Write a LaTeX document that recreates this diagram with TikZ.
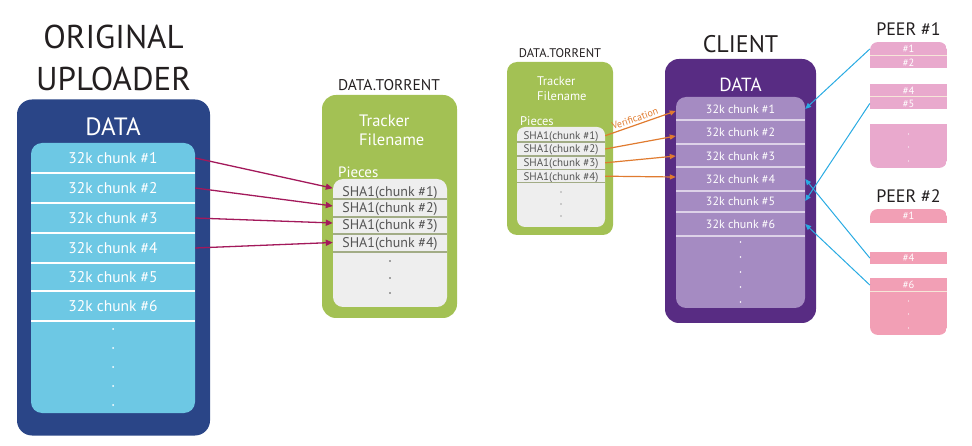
\documentclass[tikz,border=0pt]{standalone}
\usepackage{fontspec}
\setmainfont{PT Sans}
\usetikzlibrary{arrows.meta}
\definecolor{upblue}{HTML}{2A4587}
\definecolor{upsky}{HTML}{6DC8E4}
\definecolor{tgreen}{HTML}{A3C154}
\definecolor{tgray}{HTML}{EEEEEE}
\definecolor{tsep}{HTML}{A2AC86}
\definecolor{ttext}{HTML}{555555}
\definecolor{cpurple}{HTML}{582C83}
\definecolor{clilac}{HTML}{A58BC2}
\definecolor{csep}{HTML}{DDD2E8}
\definecolor{pinkA}{HTML}{E9A9CD}
\definecolor{pinkB}{HTML}{F29FB5}
\definecolor{psep}{HTML}{F6E6D8}
\definecolor{amag}{HTML}{A3195B}
\definecolor{aorg}{HTML}{E07B2F}
\definecolor{acyan}{HTML}{29ABE2}
\definecolor{ink}{HTML}{231F20}
\tikzset{
  txt/.style n args={2}{inner sep=0pt, font=\fontsize{#1}{#1}\selectfont, text height=#2pt, text depth=0pt},
  box/.style={inner sep=0pt, draw=none},
  urow/.style={txt={15.5}{10.85}, text=white, minimum width=164},
  srow/.style={txt={14}{9.8}, text=ttext, minimum width=114},
  vrow/.style={txt={11}{7.7}, text=ttext, minimum width=88},
  crow/.style={txt={12}{8.4}, text=white, minimum width=129},
  prow/.style={txt={10.5}{7.35}, text=white, minimum width=77},
  marr/.style={draw=amag, line width=1.3pt, -{Triangle[length=7pt,width=6pt]}},
  oarr/.style={draw=aorg, line width=1.2pt, -{Triangle[length=6pt,width=5pt]}},
  carr/.style={draw=acyan, line width=1pt, -{Triangle[length=6pt,width=5pt]}},
}
\begin{document}
\begin{tikzpicture}[x=1pt,y=-1pt]
\useasboundingbox (0,0) rectangle (972,446);

% ---------------- Original uploader ----------------
\node[txt={33}{23.1}, text=ink] (t1) at (113.5,36.5) {ORIGINAL};
\node[txt={33}{23.1}, text=ink] (t2) at (113.5,78.5) {UPLOADER};
\node[box, fill=upblue, rounded corners=15, minimum width=193, minimum height=336] (up) at (113.5,267.5) {};
\node[txt={25}{17.5}, text=white] (upd) at (113,127) {DATA};
\node[box, fill=upsky, rounded corners=11, minimum width=164, minimum height=270] (upin) at (113,278) {};
\foreach \i/\y in {1/158,2/188,3/218,4/248,5/277,6/306}
  \node[urow] (u\i) at (113,\y) {32k chunk \#\i};
\foreach \y in {173,203,233,263,291,321}
  \draw[white, line width=1.4pt] (31,\y) -- (195,\y);
\foreach \y in {329,348,367,386,405}
  \fill[white] (113,\y) circle (1);

% ---------------- Torrent (middle) ----------------
\node[txt={15.5}{10.85}, text=ink] (mt) at (389,85) {DATA.TORRENT};
\node[box, fill=tgreen, rounded corners=14, minimum width=135, minimum height=223] (mg) at (389.5,206.5) {};
\node[txt={16.5}{11.55}, text=white, anchor=west] (mtr) at (359,121) {Tracker};
\node[txt={16.5}{11.55}, text=white, anchor=west] (mfn) at (359,140) {Filename};
\node[txt={15}{10.5}, text=white, anchor=west] (mpc) at (338,172) {Pieces};
\node[box, fill=tgray, rounded corners=10, minimum width=114, minimum height=128] (mgi) at (390,243) {};
\foreach \i/\y in {1/191.7,2/208,3/225,4/242.5}
  \node[srow] (s\i) at (390,\y) {SHA1(chunk \#\i)};
\foreach \y in {199,217,234,252}
  \draw[tsep, line width=2pt] (333,\y) -- (447,\y);
\foreach \y in {261,278,293}
  \fill[ttext] (390,\y) circle (0.9);

% ---------------- Torrent (small) ----------------
\node[txt={12.5}{8.75}, text=ink] (st) at (560,53.5) {DATA.TORRENT};
\node[box, fill=tgreen, rounded corners=10, minimum width=106, minimum height=173] (sg) at (560,148.5) {};
\node[txt={12.5}{8.75}, text=white, anchor=west] (str) at (537,81.5) {Tracker};
\node[txt={12.5}{8.75}, text=white, anchor=west] (sfn) at (537,96.5) {Filename};
\node[txt={12.5}{8.75}, text=white, anchor=west] (spc) at (520,121) {Pieces};
\node[box, fill=tgray, rounded corners=8, minimum width=88, minimum height=100] (sgi) at (561,177) {};
\foreach \i/\y in {1/135.7,2/149,3/162.8,4/176.2}
  \node[vrow] (v\i) at (561,\y) {SHA1(chunk \#\i)};
\foreach \y in {142,156,169.3,182.7}
  \draw[tsep, line width=1.5pt] (517,\y) -- (605,\y);
\foreach \y in {192,204,216}
  \fill[ttext] (561,\y) circle (0.7);

% ---------------- Client ----------------
\node[txt={24}{16.8}, text=ink] (cl) at (740.5,44) {CLIENT};
\node[box, fill=cpurple, rounded corners=14, minimum width=151, minimum height=264] (cb) at (740.5,191) {};
\node[txt={19}{13.3}, text=white] (cd) at (740.5,85) {DATA};
\node[box, fill=clilac, rounded corners=10, minimum width=129, minimum height=211] (ci) at (740.5,202.5) {};
\foreach \i/\y in {1/109,2/132.5,3/156,4/179,5/201,6/224}
  \node[crow] (c\i) at (740.5,\y) {32k chunk \#\i};
\foreach \y in {120,144,167,191,212,236}
  \draw[csep, line width=1.2pt] (676,\y) -- (805,\y);
\foreach \y in {242,257,272,287,302}
  \fill[white] (740.5,\y) circle (0.8);

% ---------------- Peer 1 ----------------
\node[txt={18}{12.6}, text=ink] (p1t) at (908.5,29) {PEER \#1};
\begin{scope}
  \clip[rounded corners=8] (870,42) rectangle (947,168);
  \fill[pinkA] (870,42) rectangle (947,68.5);
  \fill[pinkA] (870,84) rectangle (947,109.5);
  \fill[pinkA] (870,124) rectangle (947,168);
  \draw[psep, line width=1pt] (870,55.7) -- (947,55.7);
  \draw[psep, line width=1pt] (870,97) -- (947,97);
\end{scope}
\node[prow] (p1a) at (908.5,49) {\#1};
\node[prow] (p1b) at (908.5,62.5) {\#2};
\node[prow] (p1d) at (908.5,90.5) {\#4};
\node[prow] (p1e) at (908.5,103.5) {\#5};
\foreach \y in {134,147,161}
  \fill[white] (908.5,\y) circle (0.7);

% ---------------- Peer 2 ----------------
\node[txt={18}{12.6}, text=ink] (p2t) at (908.5,196.5) {PEER \#2};
\begin{scope}
  \clip[rounded corners=8] (870,209) rectangle (947,335);
  \fill[pinkB] (870,209) rectangle (947,223);
  \fill[pinkB] (870,252) rectangle (947,264);
  \fill[pinkB] (870,278) rectangle (947,335);
  \draw[psep, line width=1pt] (870,292) -- (947,292);
\end{scope}
\node[prow] (q1) at (908.5,216) {\#1};
\node[prow] (q4) at (908.5,258) {\#4};
\node[prow] (q6) at (908.5,285) {\#6};
\foreach \y in {301,314,328}
  \fill[white] (908.5,\y) circle (0.7);

% ---------------- Arrows ----------------
\draw[marr] (u1.east) -- ([yshift=3.5pt]s1.west);
\draw[marr] (u2.east) -- ([yshift=2pt]s2.west);
\draw[marr] (u3.east) -- ([yshift=2pt]s3.west);
\draw[marr] (u4.east) -- (s4.west);

\draw[oarr] (v1.east) -- node[pos=0.45, sloped, above=2pt, inner sep=0pt, font=\fontsize{10}{10}\selectfont, text=aorg] (ver) {Verification} ([yshift=-2pt]c1.west);
\draw[oarr] (v2.east) -- ([yshift=-3.5pt]c2.west);
\draw[oarr] (v3.east) -- (c3.west);
\draw[oarr] (v4.east) -- ([yshift=2pt]c4.west);

\draw[carr] (p1a.west) -- (c1.east);
\draw[carr] (p1e.west) -- (c5.east);
\draw[carr] (q4.west) -- (c4.east);
\draw[carr] (q6.west) -- (c6.east);
\end{tikzpicture}
\end{document}
